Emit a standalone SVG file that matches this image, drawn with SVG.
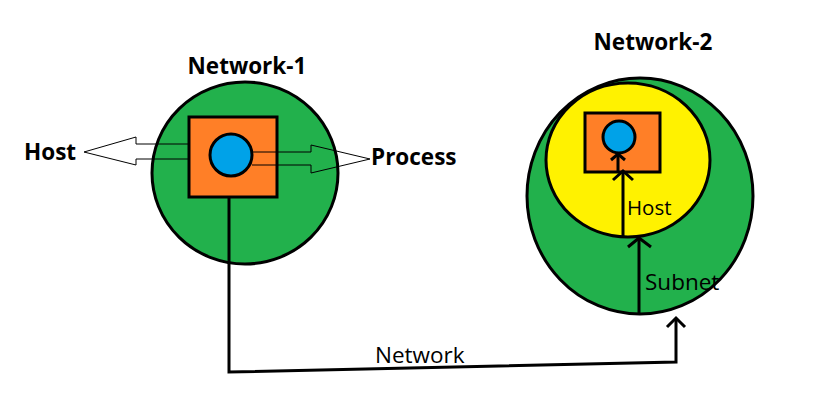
<svg xmlns="http://www.w3.org/2000/svg" width="825" height="402" viewBox="0 0 825 402">
<style>
.g{fill:#22b14c;stroke:#000;stroke-width:3}
.o{fill:#ff7f27;stroke:#000;stroke-width:3}
.b{fill:#00a2e8;stroke:#000;stroke-width:3}
.y{fill:#fff200;stroke:#000;stroke-width:3}
.ln{fill:none;stroke:#000;stroke-width:3}
.thin{fill:none;stroke:#000;stroke-width:1}
.tb{font-family:"Open Sans","DejaVu Sans",sans-serif;font-weight:bold;font-size:22.5px;fill:#000}
.tn{font-family:"Open Sans","DejaVu Sans",sans-serif;font-size:22.5px;fill:#000}
</style>
<rect width="825" height="402" fill="#fff"/>
<g id="network-1">
<ellipse class="g" cx="245" cy="173" rx="93" ry="91"/>
<rect class="o" x="189" y="117" width="88" height="80"/>
<circle class="b" cx="231" cy="155" r="21"/>
<text class="tb" x="247" y="74" text-anchor="middle">Network-1</text>
</g>
<g id="host-1">
<text class="tb" x="24" y="160">Host</text>
</g>
<g id="process-1">
<text class="tb" x="371" y="165">Process</text>
</g>
<g id="network-2">
<ellipse class="g" cx="640" cy="196" rx="113" ry="118"/>
<text class="tb" x="653" y="50" text-anchor="middle">Network-2</text>
</g>
<g id="subnet-2">
<ellipse class="y" cx="628" cy="160" rx="82" ry="77"/>
</g>
<g id="host-2">
<rect class="o" x="585" y="113" width="75" height="59"/>
<circle class="b" cx="619" cy="137" r="16"/>
</g>
<g id="connectors">
<polyline class="thin" points="188,144 136,144 136,137 84,152 136,165 136,159 188,159"/>
<polyline class="thin" points="252,152 311,152 311,145 370,159 311,173 311,165 252,165"/>
<polyline class="ln" points="229,197 229,372 676,362 676,318"/>
<polyline class="ln" points="667,327 676,318 685,327"/>
<line class="ln" x1="639" y1="313" x2="639" y2="238"/>
<polyline class="ln" points="628,247 639,238 651,247"/>
<line class="ln" x1="623" y1="237" x2="623" y2="172"/>
<polyline class="ln" points="613,180 623,171 633,180"/>
<line class="ln" x1="618" y1="172" x2="618" y2="154"/>
<polyline class="ln" points="611,160 618,154 625,160"/>
<text class="tn" x="627" y="215" style="font-size:20.5px">Host</text>
<text class="tn" x="645" y="290">Subnet</text>
<text class="tn" x="375" y="363">Network</text>
</g>
</svg>
